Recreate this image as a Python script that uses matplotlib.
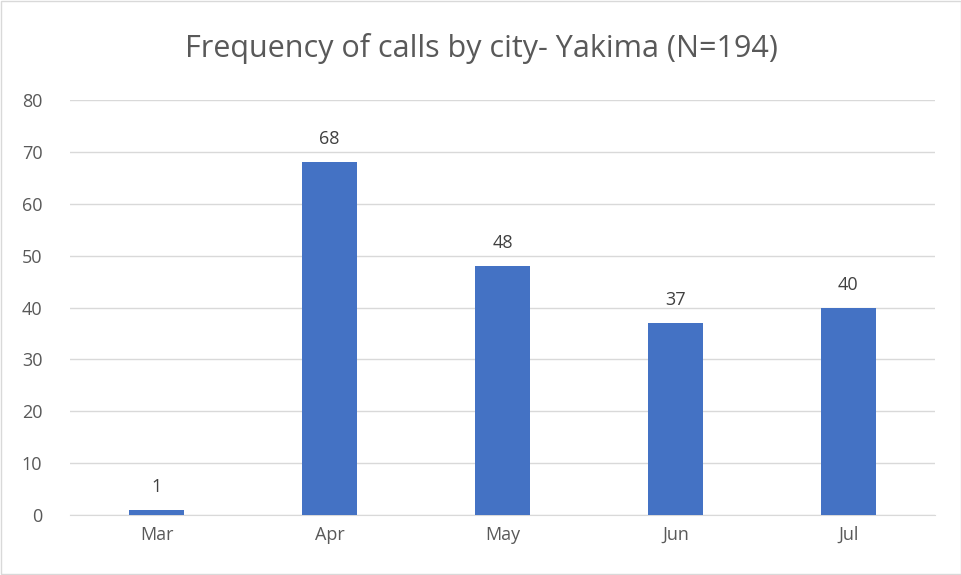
import matplotlib
matplotlib.use("Agg")
import matplotlib.pyplot as plt

# data
months = ["Mar", "Apr", "May", "Jun", "Jul"]
calls = [1, 68, 48, 37, 40]
yticks = [0, 10, 20, 30, 40, 50, 60, 70, 80]

plt.rcParams['font.family'] = ['Open Sans', 'DejaVu Sans']
text_color = '#595959'

fig = plt.figure(figsize=(9.62, 5.75), dpi=100)
ax = fig.add_axes([0.0728, 0.1043, 0.899, 0.7217])

x = range(len(months))
bars = ax.bar(x, calls, width=0.32, color='#4472C4', zorder=3)
for rect, v in zip(bars, calls):
    ax.annotate(str(v), (rect.get_x() + rect.get_width() / 2, v),
                xytext=(0, 10), textcoords='offset points',
                ha='center', va='bottom', fontsize=13, color='#404040')

ax.set_xlim(-0.5, len(months) - 0.5)
ax.set_ylim(0, 80)
ax.set_yticks(yticks)
ax.set_xticks(list(x))
ax.set_xticklabels(months)
ax.tick_params(axis='both', length=0, labelsize=13, colors=text_color)
ax.tick_params(axis='y', pad=20)
ax.tick_params(axis='x', pad=8)
ax.grid(axis='y', color='#D9D9D9', linewidth=1, zorder=0)
for s in ['top', 'right', 'left']:
    ax.spines[s].set_visible(False)
ax.spines['bottom'].set_color('#D9D9D9')

fig.text(0.5, 0.915, "Frequency of calls by city- Yakima (N=194)",
         ha='center', va='center', fontsize=22, color=text_color)

# light border round the chart
fig.patches.append(plt.Rectangle((0.001, 0.001), 0.998, 0.998, transform=fig.transFigure,
                                 fill=False, edgecolor='#D9D9D9', linewidth=1))

fig.savefig("out.png", dpi=100)
